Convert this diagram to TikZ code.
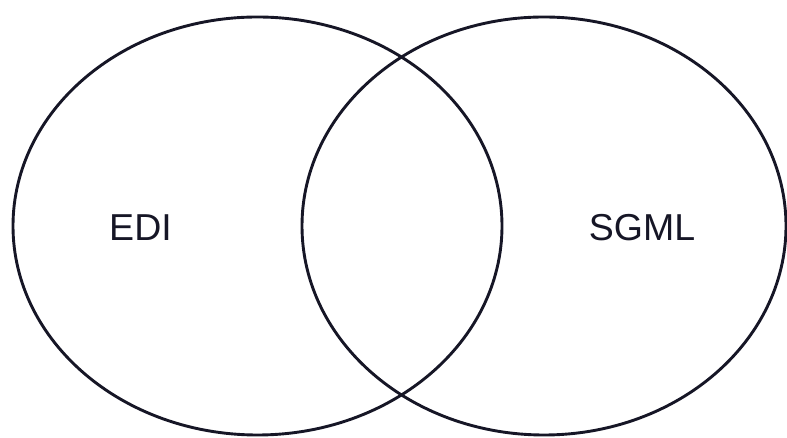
\documentclass[tikz,border=0pt]{standalone}
\usepackage{fontspec}
\setmainfont{Liberation Sans}
\usetikzlibrary{shapes.geometric}
\definecolor{ink}{RGB}{22,22,38}
\begin{document}
\begin{tikzpicture}[x=1pt,y=1pt,
  setring/.style={ellipse, draw=ink, line width=2.9pt, inner sep=0pt},
  setlabel/.style={font=\fontsize{37.5}{40}\selectfont, text=ink, inner sep=0pt}]
\useasboundingbox (0,0) rectangle (787,438);
\node[setring, minimum width=489pt, minimum height=418pt] (edi) at (257.5,212) {};
\node[setring, minimum width=484pt, minimum height=418pt] (sgml) at (544,212) {};
\node[setlabel] (edilabel) at (140.5,210) {EDI};
\node[setlabel] (sgmllabel) at (642,210) {SGML};
\end{tikzpicture}
\end{document}
